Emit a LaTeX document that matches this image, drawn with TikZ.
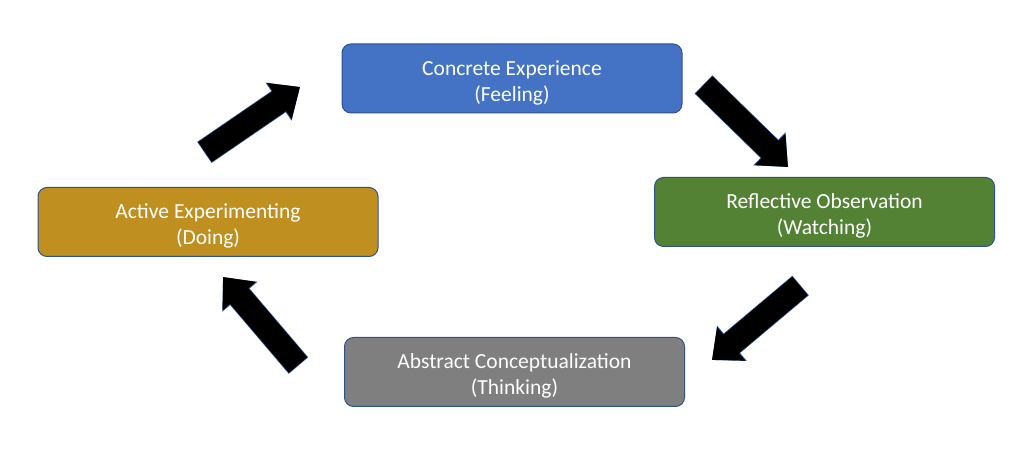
\documentclass[tikz,border=0pt]{standalone}
\usepackage{fontspec}
\setmainfont{Carlito}
\usetikzlibrary{arrows.meta}
\definecolor{ceblue}{HTML}{4472C4}
\definecolor{rogreen}{HTML}{548235}
\definecolor{acgray}{HTML}{7F7F7F}
\definecolor{aegold}{HTML}{BF8F1F}
\definecolor{edgeblue}{HTML}{2F528F}
\begin{document}
\begin{tikzpicture}[x=1pt,y=1pt]
                \tikzset{every node/.style={font=\fontsize{21.5}{26}\selectfont, text=white, align=center}}
                \tikzset{stage/.style={draw=edgeblue, line width=1pt, rounded corners=9pt, minimum width=340pt, minimum height=69pt, inner sep=0pt, text height=52pt, text depth=6pt}}
                \tikzset{bigarrow/.style={line width=24pt, -{Triangle[length=25pt,width=42pt]}, preaction={draw=edgeblue, line width=25.5pt, -{Triangle[length=26pt,width=44.5pt]}, shorten <=-0.75pt}}}
                \useasboundingbox (0,0) rectangle (1024,470);
                \node[stage, fill=ceblue] (concrete) at (512,391.5) {Concrete Experience\\(Feeling)};
                \node[stage, fill=rogreen] (reflective) at (824.5,258) {Reflective Observation\\(Watching)};
                \node[stage, fill=acgray] (abstract) at (514.5,98) {Abstract Conceptualization\\(Thinking)};
                \node[stage, fill=aegold] (active) at (208,248) {Active Experimenting\\(Doing)};
                \coordinate (t1) at (205,318);
                \coordinate (h1) at (300,383);
                \coordinate (t2) at (704,385);
                \coordinate (h2) at (788,303);
                \coordinate (t3) at (800,184);
                \coordinate (h3) at (712,110);
                \coordinate (t4) at (298,105);
                \coordinate (h4) at (223,193);
                \draw[bigarrow] (t1) -- (h1);
                \draw[bigarrow] (t2) -- (h2);
                \draw[bigarrow] (t3) -- (h3);
                \draw[bigarrow] (t4) -- (h4);
            \end{tikzpicture}
\end{document}
